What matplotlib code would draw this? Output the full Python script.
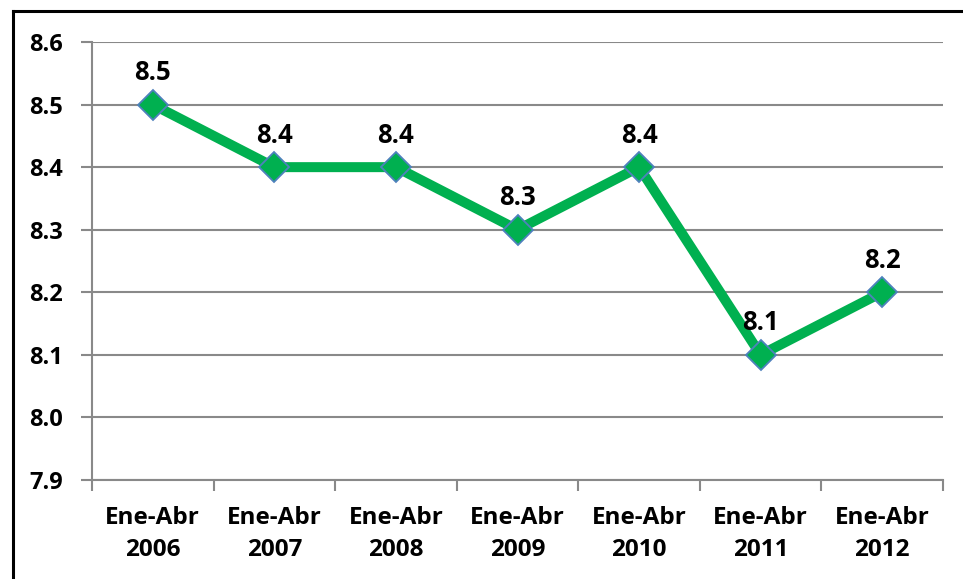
import numpy as np
import matplotlib.pyplot as plt
from matplotlib.lines import Line2D

periods = ["Ene-Abr\n2006", "Ene-Abr\n2007", "Ene-Abr\n2008", "Ene-Abr\n2009",
           "Ene-Abr\n2010", "Ene-Abr\n2011", "Ene-Abr\n2012"]
values = [8.5, 8.4, 8.4, 8.3, 8.4, 8.1, 8.2]
y_ticks = [7.9, 8.0, 8.1, 8.2, 8.3, 8.4, 8.5, 8.6]

plt.rcParams['font.family'] = ['Open Sans', 'DejaVu Sans']
plt.rcParams['font.weight'] = 'bold'

fig = plt.figure(figsize=(9.63, 5.79), dpi=100)
ax = fig.add_axes([92 / 963, 1 - 480 / 579, (943 - 92) / 963, (480 - 42) / 579])

x = np.arange(len(values))
ax.plot(x, values, color='#00B050', lw=7.2, solid_joinstyle='miter', zorder=3,
        marker='D', markersize=15.5, markerfacecolor='#00B050',
        markeredgecolor='#4F81BD', markeredgewidth=1.3)

for xi, v in zip(x, values):
    ax.annotate(f"{v:.1f}", (xi, v), xytext=(0, 23), textcoords='offset points',
                ha='center', va='center', fontsize=18.5, fontweight='bold')

ax.set_xlim(-0.5, len(values) - 0.5)
ax.set_ylim(7.9, 8.6)
ax.set_yticks(y_ticks)
ax.set_yticklabels([f"{t:.1f}" for t in y_ticks], fontsize=17, fontweight='bold')
ax.set_xticks(np.arange(-0.5, len(values)), labels=[])
ax.set_xticks(x, labels=periods, minor=True)
ax.tick_params(axis='x', which='major', length=8, width=1.5, color='#898989')
ax.tick_params(axis='x', which='minor', length=0, pad=19, labelsize=17.5)
for lab in ax.get_xticklabels(minor=True):
    lab.set_fontweight('bold')
    lab.set_linespacing(1.45)
ax.tick_params(axis='y', length=8, width=1.5, color='#898989', pad=13)

ax.grid(axis='y', color='#898989', lw=1.5)
ax.set_axisbelow(True)
for s in ['top', 'right']:
    ax.spines[s].set_visible(False)
for s in ['left', 'bottom']:
    ax.spines[s].set_color('#898989')
    ax.spines[s].set_linewidth(1.5)

# outer frame (only top and left edges visible in the image)
fig.add_artist(Line2D([13 / 963, 1], [1 - 11 / 579, 1 - 11 / 579], color='black', lw=2.2))
fig.add_artist(Line2D([13 / 963, 13 / 963], [0, 1 - 11 / 579], color='black', lw=2.2))

fig.savefig("out.png", dpi=100)
